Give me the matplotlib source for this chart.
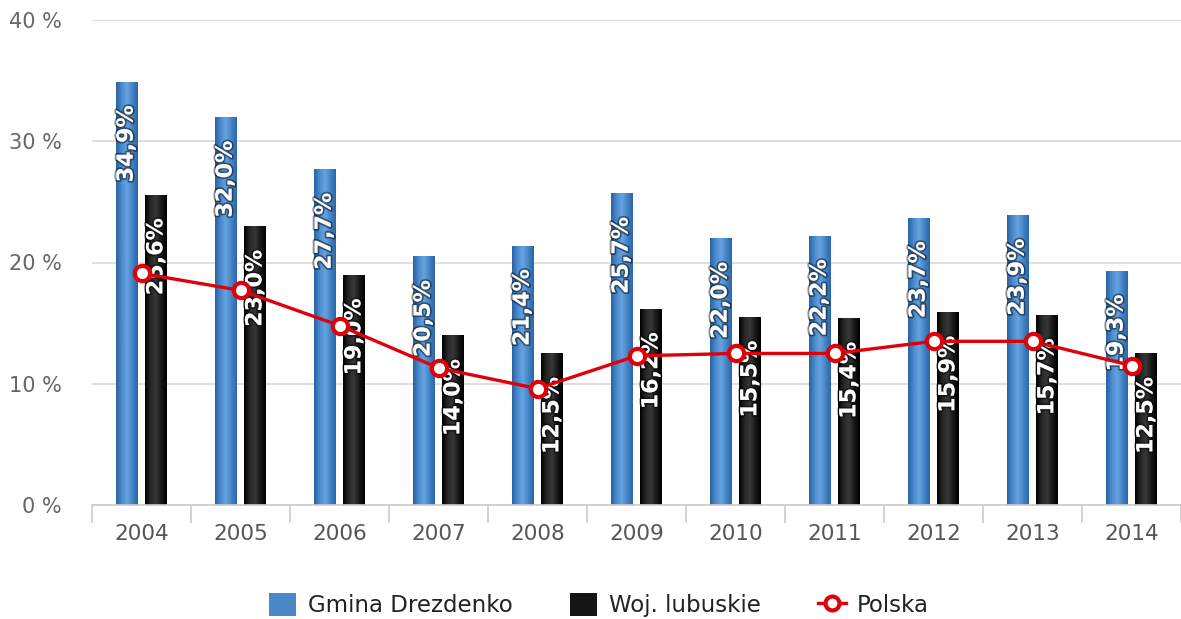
import numpy as np
import matplotlib
matplotlib.use('Agg')
import matplotlib.pyplot as plt
import matplotlib.patheffects as pe
from matplotlib.colors import LinearSegmentedColormap
from matplotlib.patches import Patch
from matplotlib.lines import Line2D

# data
years = ['2004', '2005', '2006', '2007', '2008', '2009', '2010', '2011', '2012', '2013', '2014']
gmina = [34.9, 32.0, 27.7, 20.5, 21.4, 25.7, 22.0, 22.2, 23.7, 23.9, 19.3]
woj = [25.6, 23.0, 19.0, 14.0, 12.5, 16.2, 15.5, 15.4, 15.9, 15.7, 12.5]
polska = [19.1, 17.7, 14.8, 11.3, 9.6, 12.3, 12.5, 12.5, 13.5, 13.5, 11.5]
yticks = [0, 10, 20, 30, 40]

plt.rcParams['font.family'] = 'DejaVu Sans'

fig = plt.figure(figsize=(11.81, 6.19), dpi=100)
ax = fig.add_axes([92 / 1181, 114 / 619, 1 - 92 / 1181, (599 - 114) / 619])

x = np.arange(len(years))
w = 0.22

blue_cmap = LinearSegmentedColormap.from_list('b', ['#2a62a0', '#4a8ace', '#66a4e0', '#4584c6', '#2c66a6'])
black_cmap = LinearSegmentedColormap.from_list('k', ['#000000', '#262626', '#383838', '#181818', '#000000'])
grad = np.linspace(0, 1, 64).reshape(1, -1)


def gradient_bars(xs, vals, cmap, base):
    bars = ax.bar(xs, vals, width=w, color=base, zorder=2, linewidth=0)
    for b in bars:
        im = ax.imshow(grad, extent=[b.get_x(), b.get_x() + b.get_width(), 0, b.get_height()],
                       aspect='auto', cmap=cmap, zorder=2.1, interpolation='bicubic')
        im.set_clip_path(b)
    return bars


gradient_bars(x - 0.15, gmina, blue_cmap, '#3d7cc0')
gradient_bars(x + 0.15, woj, black_cmap, '#111111')

# value labels inside bars
shadow = [pe.withStroke(linewidth=2.5, foreground=(0, 0, 0, 0.45))]
for xs, vals in [(x - 0.15, gmina), (x + 0.15, woj)]:
    for xi, v in zip(xs, vals):
        txt = f'{v:.1f}'.replace('.', ',') + '%'
        ax.annotate(txt, (xi, v), xytext=(0, -17), textcoords='offset points',
                    rotation=90, ha='center', va='top', color='white',
                    fontweight='bold', fontsize=16, zorder=3, path_effects=shadow)

# Polska line
ax.plot(x, polska, color='#e0000a', lw=2.4, marker='o', markersize=11,
        markerfacecolor='white', markeredgecolor='#e0000a', markeredgewidth=3, zorder=4)

ax.set_xlim(-0.5, len(years) - 0.5)
ax.set_ylim(0, 40)

ax.set_yticks(yticks)
ax.set_yticklabels([f'{t} %' for t in yticks])
ax.yaxis.grid(True, color='#d9d9d9', lw=1.2)
ax.set_axisbelow(True)

ax.set_xticks(x)
ax.set_xticklabels(years)
ax.set_xticks(np.arange(len(years) + 1) - 0.5, minor=True)
ax.tick_params(axis='x', which='major', length=0, pad=14, labelsize=15.5, labelcolor='#555555')
ax.tick_params(axis='x', which='minor', length=13, width=1.2, color='#cccccc')
ax.tick_params(axis='y', length=0, pad=22, labelsize=15, labelcolor='#666666')

for s in ['top', 'right', 'left']:
    ax.spines[s].set_visible(False)
ax.spines['bottom'].set_color('#cccccc')
ax.spines['bottom'].set_linewidth(1.2)

handles = [
    Patch(facecolor='#4a88c8', edgecolor='none', label='Gmina Drezdenko'),
    Patch(facecolor='#151515', edgecolor='none', label='Woj. lubuskie'),
    Line2D([0], [0], color='#e0000a', lw=2.4, marker='o', markersize=10,
           markerfacecolor='white', markeredgecolor='#e0000a', markeredgewidth=3, label='Polska'),
]
fig.legend(handles=handles, loc='center', bbox_to_anchor=(599 / 1181, 1 - 605 / 619), ncol=3,
           frameon=False, fontsize=16.5, handlelength=1.2, handleheight=1.2,
           columnspacing=2.5, handletextpad=0.5, labelcolor='#222222')

fig.savefig('out.png', dpi=100)
